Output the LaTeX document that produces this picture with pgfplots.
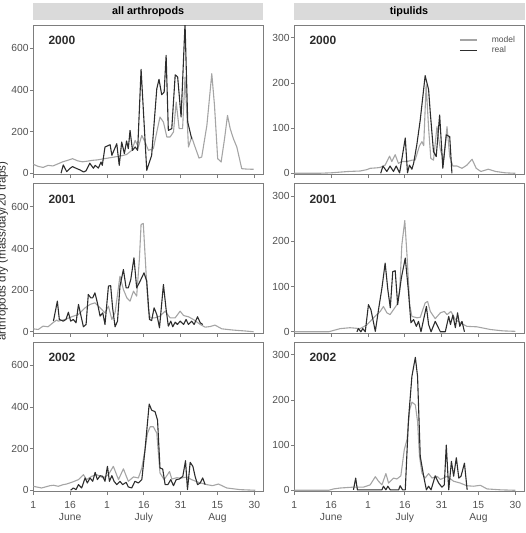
\documentclass[border=0pt]{standalone}
\usepackage{fontspec}
\setmainfont{Liberation Sans}
\usepackage{pgfplots}
\pgfplotsset{compat=1.18}

\definecolor{framegray}{RGB}{125,125,125}
\definecolor{labelgray}{RGB}{80,80,80}
\definecolor{stripgray}{RGB}{218,218,218}
\definecolor{modelgray}{RGB}{165,165,165}
\definecolor{realdark}{RGB}{45,45,45}

\tikzset{
  yearlabel/.style={anchor=west, inner sep=0pt, xshift=15pt, yshift=-15.7pt,
    font=\bfseries\fontsize{12}{12}\selectfont, text=realdark},
}

\pgfplotsset{
  panel/.style={
    scale only axis, width=229.8pt, height=149.5pt,
    xmin=0, xmax=93.6,
    axis line style={draw=framegray, line width=0.7pt},
    tick align=outside, tick pos=left,
    major tick style={draw=framegray, line width=0.7pt},
    major tick length=3.5pt,
    xtick={0,15,30,45,60,75,90},
    xticklabels={},
    ticklabel style={font=\fontsize{10.3}{12.5}\selectfont, text=labelgray},
    yticklabel style={inner xsep=1pt},
  },
  bottomrow/.style={
    xticklabels={1,{16\\June},1,{16\\July},31,{15\\Aug},30},
    xticklabel style={align=center, yshift=-2.5pt},
  },
  arth/.style={ymin=-6, ymax=712, ytick={0,200,400,600}, yticklabels={0,200,400,600}},
  tipu/.style={ymin=-2.7, ymax=328, ytick={0,100,200,300}, yticklabels={0,100,200,300}},
  model/.style={draw=modelgray, line width=1.1pt, no markers, line join=round},
  real/.style={draw=realdark, line width=1.1pt, no markers, line join=round},
}

\begin{document}
\begin{tikzpicture}

% strip headers
\fill[stripgray] (33.3pt,-3.3pt) rectangle (263.1pt,-20pt);
\node[font=\bfseries\fontsize{10.8}{12}\selectfont] at (148.2pt,-11.7pt) {all arthropods};
\fill[stripgray] (294.3pt,-3.3pt) rectangle (525pt,-20pt);
\node[font=\bfseries\fontsize{10.8}{12}\selectfont] at (409pt,-11.7pt) {tipulids};

% shared y label
\node[rotate=90, anchor=base, font=\fontsize{11.5}{12}\selectfont, text=realdark]
  at (5.5pt,-251pt) {arthropods dry (mass/day/20 traps)};

% ---------- all arthropods, 2000 ----------
\begin{axis}[panel, arth, at={(33.3pt,-25pt)}, anchor=north west]
\addplot[model] table {
0 43
2 33
4 28
6 38
8 35
10 45
12 55
14 62
16 70
18 60
20 55
22 58
24 62
26 64
28 68
30 72
32 76
34 80
36 84
38 90
40.1 110
41.5 158
42.8 126
44.2 182
45.5 150
46.9 110
48.9 118
50.3 198
51.6 270
53 246
54.4 174
55.7 174
57.1 198
58.2 342
59.4 214
60.8 214
61.8 462
63.2 126
64.5 174
65.9 126
67.5 73
68.6 78
70.7 230
72.7 478
73.8 326
75.1 70
76.5 54
77.9 166
79.1 278
80.2 214
81.5 166
82.9 126
84.9 22
87 20
89.7 19
};
\addplot[real] table {
11.3 0
12.2 40
13.6 8
15 24
16 32
17.4 24
19 16
20.5 6
21.5 12
23 48
24.5 24
25.2 38
26.5 25
27.6 54
28.1 38
29.2 126
31.3 137
32 86
34 142
35 38
36 150
37.1 94
38 155
38.7 118
39.4 206
40.4 110
41.5 126
42.5 110
43.9 499
46.2 14
48.2 86
50.3 406
51.2 451
52.3 377
53.3 390
54.1 566
55 206
56.4 214
57.8 473
58.8 462
60.2 270
61.8 720
62.9 246
64.5 166
};
\node[yearlabel] at (rel axis cs:0,1) {2000};
\end{axis}

% ---------- tipulids, 2000 ----------
\begin{axis}[panel, tipu, at={(294.3pt,-25pt)}, anchor=north west,
  legend style={at={(1,1)}, anchor=north east, xshift=-5pt, yshift=-8pt,
    draw=none, fill=none, font=\fontsize{8.5}{9}\selectfont, text=labelgray,
    row sep=0.5pt, nodes={inner sep=1pt}},
  legend cell align=left,
  legend image code/.code={\draw[#1] (0pt,0pt) -- (17pt,0pt); \path[draw=none] (31pt,0pt);},
]
\addplot[model] table {
0 0
10 0
15 1
17.3 2
22 4
26.8 5
29.5 8
30.9 11
33.6 12
35 13
37 18
38.8 38
39.7 26
41.1 41
42.4 22
43.8 26
45.9 26
47.9 29
49.2 29
51 61
52 70
52.7 61
53.7 196
54.7 100
55.6 33
56.7 29
58.1 103
59.5 52
60.8 29
62.2 103
63.3 37
64.6 16
66.3 16
68.3 11
70.3 18
72.4 31
74.1 11
76 4
79 9
82 4
86 1
90 0
};
\addlegendentry{model}
\addplot[real] table {
35.2 0
36.1 16
37.7 4
39.0 16
40.4 4
41.5 16
42.9 1
45.2 78
46.1 1
46.9 18
47.9 9
48.6 22
49.9 63
51.3 118
53.3 216
54.7 185
55.4 133
56.7 48
57.8 37
59.2 129
60.5 11
61.9 85
63.3 81
64.2 0
};
\addlegendentry{real}
\node[yearlabel] at (rel axis cs:0,1) {2000};
\end{axis}

% ---------- all arthropods, 2001 ----------
\begin{axis}[panel, arth, at={(33.3pt,-183.5pt)}, anchor=north west]
\addplot[model] table {
0 14
2 11
4 27
6 24
8.2 45
9.5 56
10.2 51
12.9 59
16.3 75
18.4 83
21.1 115
23.1 131
25.1 139
27.2 115
29.2 91
30.6 123
32 59
33.3 91
35.3 267
36.7 203
38.1 163
39.4 147
40.8 195
42.1 171
43.2 347
43.9 515
44.8 520
46.2 227
46.9 107
47.6 67
49.6 67
51.6 75
53.7 99
55.7 67
57.8 67
59.8 99
61.2 78
63.2 72
65.2 59
68 35
70 22
72 25
74 32
76.8 14
81.5 8
86 4
89.7 0
};
\addplot[real] table {
8.2 51
9.8 147
10.6 59
12.2 51
13.3 59
14.3 94
15.2 51
16.3 59
17.4 43
18.4 131
19.3 83
20.4 24
21.5 35
22.4 179
23.4 163
24.2 163
25.1 187
26.1 139
27.2 75
28.3 91
29.2 35
30.6 219
31.5 222
32.3 115
33.3 24
34.3 51
35.3 219
36.7 299
37.8 211
38.7 211
39.7 251
41 355
42.1 211
43.5 243
45.1 283
46.2 243
47.3 59
48.2 54
49.2 115
50.3 83
51.4 19
53 227
54.1 107
55 27
56 51
56.8 24
57.8 46
58.7 35
59.8 51
61.2 35
62.2 59
63.2 35
64.5 51
65.5 35
66.9 72
68 43
69 35
};
\node[yearlabel] at (rel axis cs:0,1) {2001};
\end{axis}

% ---------- tipulids, 2001 ----------
\begin{axis}[panel, tipu, at={(294.3pt,-183.5pt)}, anchor=north west]
\addplot[model] table {
0 0
14 0
16 3
18.7 7
22.7 9
26.8 7
29.5 15
31.6 27
33.6 38
35 45
36.3 56
37.7 42
39 38
40.4 49
41.8 60
42.9 89
43.8 192
45 246
45.9 170
47 60
47.9 34
50 31
51.3 32
53.3 64
54.3 67
55.4 45
57.4 29
59.5 42
61.1 45
62.2 38
63.8 45
65.6 27
67.6 20
70.3 12
74.4 11
79.9 5
85 2
90 1
};
\addplot[real] table {
25.5 0
26.1 7
27.1 0
27.9 7
28.9 0
30.2 60
31.2 49
33 1
34.3 49
35.7 97
37 152
38.1 93
39.1 53
40.1 133
41.1 135
42.1 60
43.6 119
45.2 163
46.5 89
47.5 20
48.6 27
49.7 12
50.6 23
51.6 0
53.8 56
54.7 16
55.7 0
57.4 23
59.5 0
61.5 0
62.9 34
63.6 16
64.6 37
65.6 9
66.5 42
67.4 12
68.3 23
69.3 0
};
\node[yearlabel] at (rel axis cs:0,1) {2001};
\end{axis}

% ---------- all arthropods, 2002 ----------
\begin{axis}[panel, arth, bottomrow, at={(33.3pt,-342pt)}, anchor=north west]
\addplot[model] table {
0 19
3.4 11
6.8 22
8.2 24
10.2 19
12.2 27
13.6 30
15.6 38
18.4 51
20.4 75
21.7 51
23.8 67
25.8 75
28.5 59
30.6 75
32.6 115
34.7 51
36.7 103
38.7 43
40.8 64
42.8 59
44.2 107
45.5 194
46.5 274
47.6 305
48.9 305
50.3 274
51.6 83
53.3 51
55.5 90
56.4 54
58.4 60
60.5 59
62.5 64
64.5 51
67.3 38
70.7 27
73 22
75.4 30
78.8 11
84.2 3
90.4 0
};
\addplot[real] table {
15.2 0
16.3 11
17.4 3
18.4 27
19.7 11
21.1 59
22 35
23.1 59
24.2 43
25.2 86
26.1 51
27.2 70
28.3 67
29.2 43
30.2 115
31 43
32 70
32.9 43
34 27
35.3 43
36.4 27
37.8 38
38.7 16
40.1 11
41.4 43
42.8 35
44.2 51
45.5 194
47.2 414
48.2 385
49.6 377
50.6 337
51.6 107
52.7 102
53.7 27
54.8 27
56 51
57.1 22
58.2 51
59.5 54
60.9 67
62 142
62.8 3
63.9 134
65 115
65.9 67
66.9 27
68 35
69 59
70 27
};
\node[yearlabel] at (rel axis cs:0,1) {2002};
\end{axis}

% ---------- tipulids, 2002 ----------
\begin{axis}[panel, tipu, bottomrow, at={(294.3pt,-342pt)}, anchor=north west]
\addplot[model] table {
0 0
14 0
16 3
18.7 5
24.1 7
28.2 7
30.9 12
33 30
34.3 20
35.7 12
37.3 37
38.4 16
40.4 27
41.8 25
43.4 32
44.8 90
45.9 112
47 178
47.9 195
49.3 189
50.2 152
51 75
52 38
53.3 27
54.7 37
56.1 27
58.1 31
59.5 24
60.8 27
62.2 31
64.9 20
67.6 16
70.3 10
73 9
75.8 11
78.5 3
84 1
90 0
};
\addplot[real] table {
24.1 1
25.0 27
25.7 1
35.7 1
36.3 9
37.3 1
38.1 9
39.1 1
42.5 1
43.1 10
44.1 1
45.2 1
46.5 156
47.9 252
49.3 294
50.2 252
51.3 75
52.7 31
53.8 1
54.7 9
55.7 1
57.4 32
58.8 16
60.1 7
61.1 12
61.9 100
62.9 1
64 64
64.9 31
66 72
67 27
67.9 31
69.3 60
70.4 1
};
\node[yearlabel] at (rel axis cs:0,1) {2002};
\end{axis}

\pgfresetboundingbox
\path[use as bounding box] (0pt,0pt) rectangle (525pt,-533pt);
\end{tikzpicture}
\end{document}
